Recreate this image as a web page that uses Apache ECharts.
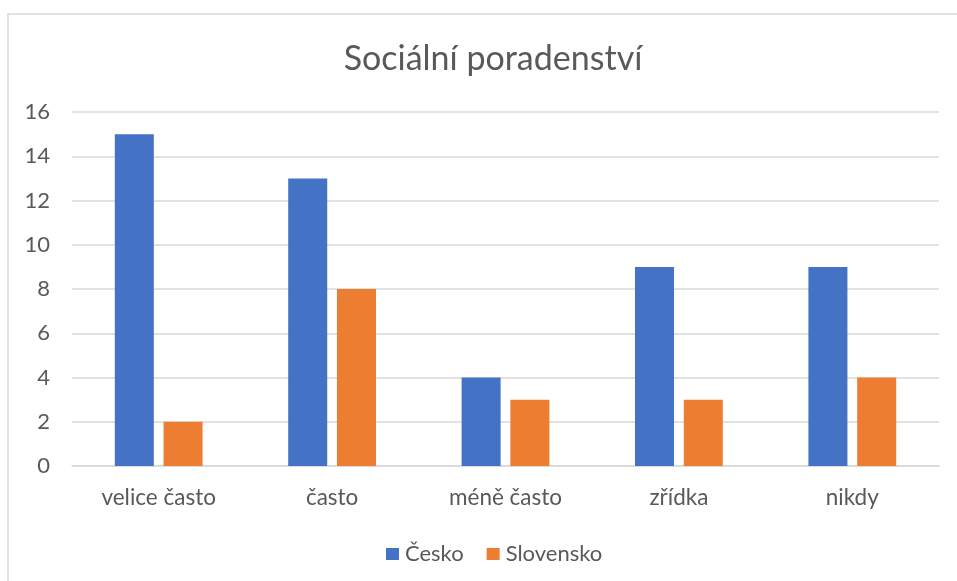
<!DOCTYPE html>
<html><head><meta charset="utf-8">
<script src="https://cdn.jsdelivr.net/npm/echarts@6/dist/echarts.min.js"></script>
<style>html,body{margin:0;padding:0;background:#fff;}#c{width:957px;height:581px;}</style>
</head><body><div id="c"></div>
<script>
const title = 'Sociální poradenství';
const categories = ['velice často', 'často', 'méně často', 'zřídka', 'nikdy'];
const seriesNames = ['Česko', 'Slovensko'];
const cesko = [15, 13, 4, 9, 9];
const slovensko = [2, 8, 3, 3, 4];
const yTicks = { min: 0, max: 16, interval: 2 };

const font = 'Lato, "Open Sans", sans-serif';
const chart = echarts.init(document.getElementById('c'));
chart.setOption({
  backgroundColor: '#fff',
  animation: false,
  graphic: [{
    type: 'rect', shape: { x: 8, y: 14, width: 1000, height: 600 },
    style: { fill: 'none', stroke: '#D9D9D9', lineWidth: 1.5 }, z: -1
  }],
  title: {
    text: title, left: 488, top: 37, textAlign: 'center',
    textStyle: { color: '#595959', fontSize: 34, fontWeight: 'normal', fontFamily: font }
  },
  legend: {
    data: seriesNames, top: 538, left: 381, itemWidth: 13, itemHeight: 12, itemGap: 23,
    icon: 'rect', textStyle: { color: '#595959', fontSize: 22, fontFamily: font, padding: [0, 0, 0, 1] }
  },
  grid: { left: 72, right: 18, top: 112, bottom: 115 },
  xAxis: {
    type: 'category', data: categories,
    axisLine: { show: true, lineStyle: { color: '#D9D9D9', width: 1.5 } },
    axisTick: { show: false },
    axisLabel: { color: '#595959', fontSize: 22.5, margin: 20, fontFamily: font }
  },
  yAxis: {
    type: 'value', min: yTicks.min, max: yTicks.max, interval: yTicks.interval,
    axisLine: { show: false }, axisTick: { show: false },
    splitLine: { lineStyle: { color: '#D9D9D9', width: 1.5 } },
    axisLabel: { color: '#595959', fontSize: 22, margin: 22, fontFamily: font }
  },
  series: [
    { name: seriesNames[0], type: 'bar', data: cesko, barWidth: '22.5%', barGap: '25%',
      itemStyle: { color: '#4472C4' } },
    { name: seriesNames[1], type: 'bar', data: slovensko, barWidth: '22.5%',
      itemStyle: { color: '#ED7D31' } }
  ]
});
</script></body></html>
